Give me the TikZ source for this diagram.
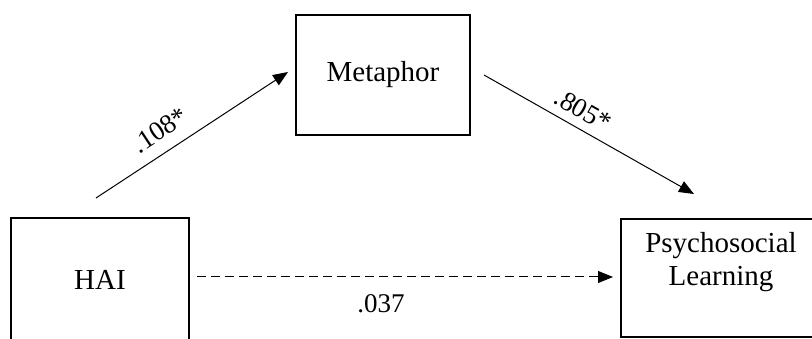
\documentclass[tikz,border=0pt]{standalone}
\usepackage{fontspec}
\setmainfont{Liberation Serif}
\usetikzlibrary{arrows.meta}
\begin{document}
\begin{tikzpicture}[x=1pt,y=-1pt,
  box/.style={draw, line width=1.3pt, rectangle, inner sep=0pt},
  lbl/.style={font=\fontsize{29}{33}\selectfont, align=center},
  wt/.style={font=\fontsize{27}{30}\selectfont, inner sep=0pt},
  arr/.style={line width=1pt, -{Triangle[length=15pt,width=12pt]}},
]
\useasboundingbox (0,0) rectangle (812,339);
\clip (0,0) rectangle (812,339);
\node[box, lbl, minimum width=178pt, minimum height=124pt] (hai) at (100,280) {HAI};
\node[box, lbl, minimum width=174pt, minimum height=120pt] (met) at (383,75) {Metaphor};
\node[box, minimum width=200pt, minimum height=118pt] (psy) at (721,278) {};
\node[lbl] (psytext) at (721,262) {Psychosocial\\Learning};
\coordinate (a1s) at (96,198);
\coordinate (a1e) at (288,72);
\coordinate (a2s) at (484,75);
\coordinate (a2e) at (694,194);
\coordinate (a3s) at (197,277);
\coordinate (a3e) at (613,277);
\draw[arr] (a1s) -- (a1e);
\draw[arr] (a2s) -- (a2e);
\draw[arr, dash pattern=on 9pt off 5pt] (a3s) -- (a3e);
\node[wt, rotate=33.5] (l1) at (160,130) {.108*};
\node[wt, rotate=-29.4] (l2) at (583,110) {.805*};
\node[wt] (l3) at (381,304) {.037};
\end{tikzpicture}
\end{document}
